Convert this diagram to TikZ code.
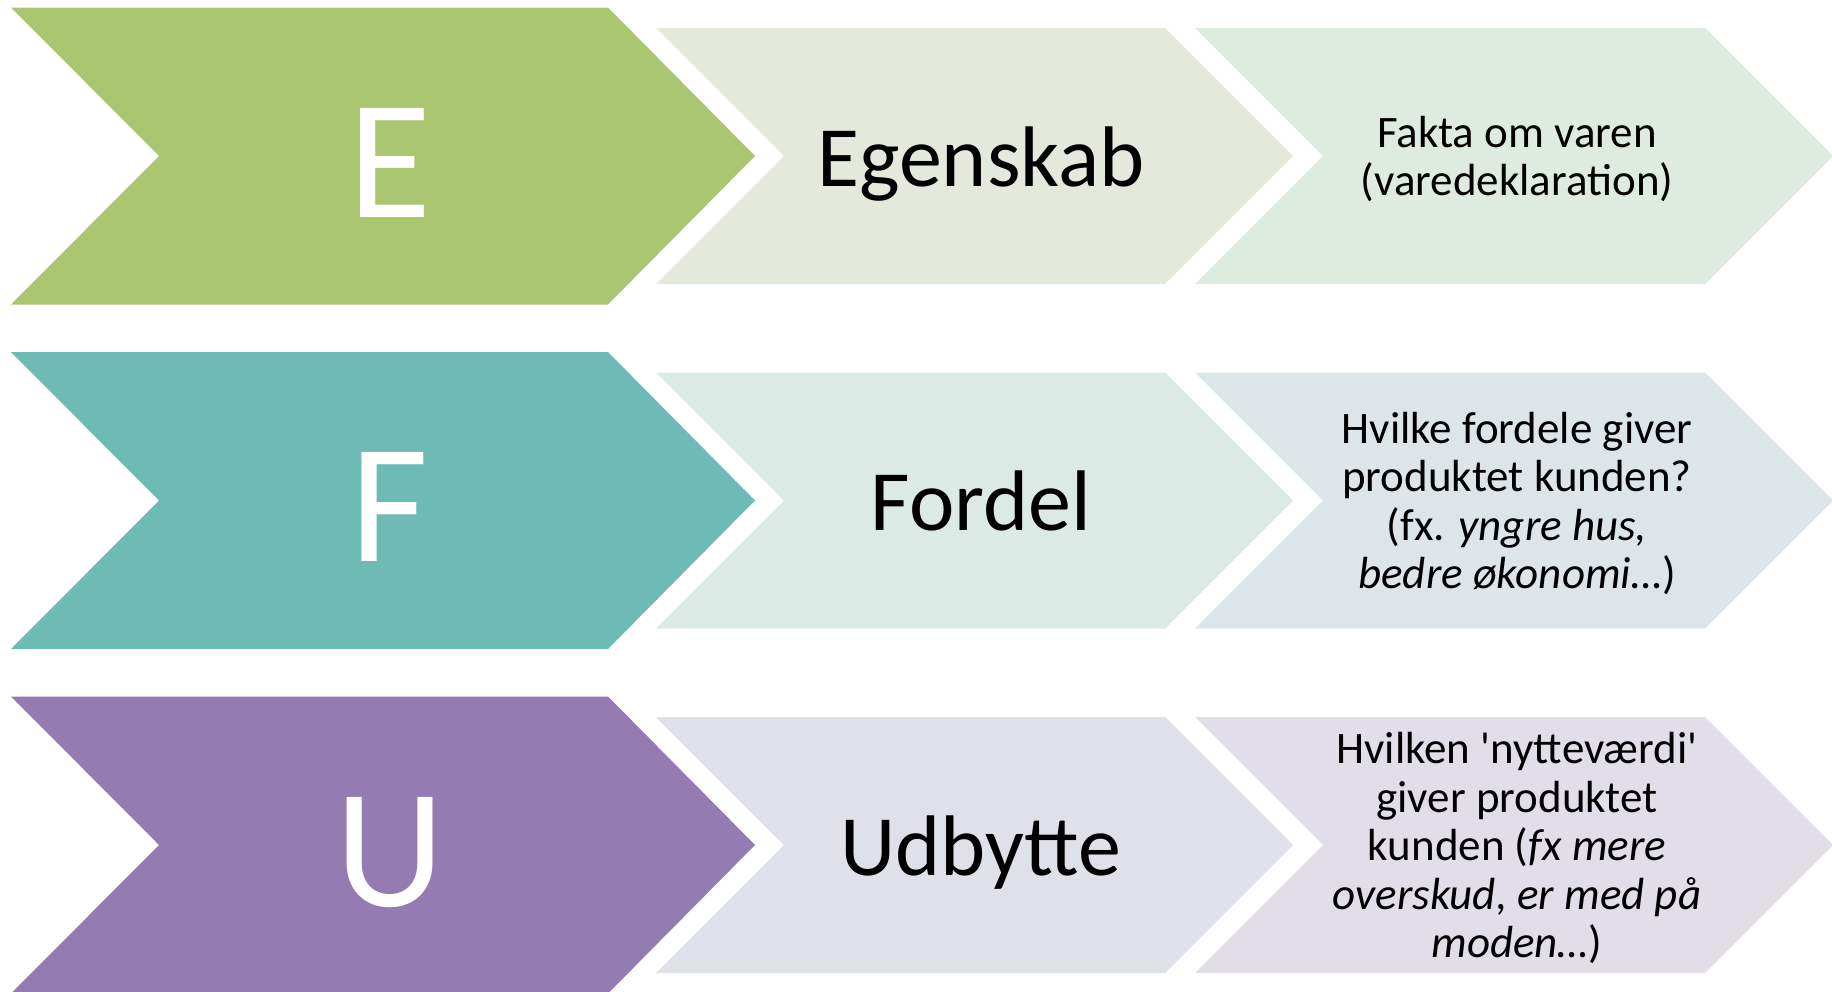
\documentclass[tikz,border=0pt]{standalone}
\usepackage{fontspec}
\setmainfont{Carlito}
\definecolor{eGreen}{HTML}{ABC670}
\definecolor{fTeal}{HTML}{6EBBB6}
\definecolor{uPurple}{HTML}{947BB2}
\definecolor{eMid}{HTML}{E3EADB}
\definecolor{eRight}{HTML}{DEEBE0}
\definecolor{fMid}{HTML}{DCEAE6}
\definecolor{fRight}{HTML}{DCE6E9}
\definecolor{uMid}{HTML}{DEE1E8}
\definecolor{uRight}{HTML}{E2DEE8}

\begin{document}
\begin{tikzpicture}[x=1pt, y=-1pt,
    letter/.style={text=white, font=\fontsize{170}{170}\selectfont, anchor=base, inner sep=0},
    word/.style={font=\fontsize{86}{90}\selectfont, anchor=base, inner sep=0},
    note/.style={font=\fontsize{45}{48.5}\selectfont, align=center, inner sep=0}]
    \useasboundingbox (0,0) rectangle (1832,991);
    % E row
    \fill[eGreen] (11,7.5) -- (608,7.5) -- (755,156) -- (608,304.5) -- (11,304.5) -- (159,156) -- cycle;
    \fill[eMid] (656,28) -- (1165,28) -- (1293,156) -- (1165,284) -- (656,284) -- (784,156) -- cycle;
    \fill[eRight] (1195,28) -- (1705,28) -- (1833,156) -- (1705,284) -- (1195,284) -- (1323,156) -- cycle;
    \node[letter] (E) at (390,217) {E};
    \node[word] (egenskab) at (981,186) {Egenskab};
    \node[note] (fakta) at (1517,159) {Fakta om varen\\(varedeklaration)};
    % F row
    \fill[fTeal] (11,352) -- (608,352) -- (755,500.5) -- (608,649) -- (11,649) -- (159,500.5) -- cycle;
    \fill[fMid] (656,372.5) -- (1165,372.5) -- (1293,500.5) -- (1165,628.5) -- (656,628.5) -- (784,500.5) -- cycle;
    \fill[fRight] (1195,372.5) -- (1705,372.5) -- (1833,500.5) -- (1705,628.5) -- (1195,628.5) -- (1323,500.5) -- cycle;
    \node[letter] (F) at (390,561.5) {F};
    \node[word] (fordel) at (981,530.5) {Fordel};
    \node[note] (fordele) at (1517,503.5) {Hvilke fordele giver\\produktet kunden?\\(fx. \textit{yngre hus,}\\\textit{bedre økonomi…})};
    % U row
    \fill[uPurple] (11,696.5) -- (608,696.5) -- (755,845) -- (608,993.5) -- (11,993.5) -- (159,845) -- cycle;
    \fill[uMid] (656,717) -- (1165,717) -- (1293,845) -- (1165,973) -- (656,973) -- (784,845) -- cycle;
    \fill[uRight] (1195,717) -- (1705,717) -- (1833,845) -- (1705,973) -- (1195,973) -- (1323,845) -- cycle;
    \node[letter] (U) at (390,906) {U};
    \node[word] (udbytte) at (981,875) {Udbytte};
    \node[note] (nytte) at (1517,848) {Hvilken \textquotesingle nytteværdi\textquotesingle\\giver produktet\\kunden (\textit{fx mere}\\\textit{overskud, er med på}\\\textit{moden…})};
\end{tikzpicture}
\end{document}
